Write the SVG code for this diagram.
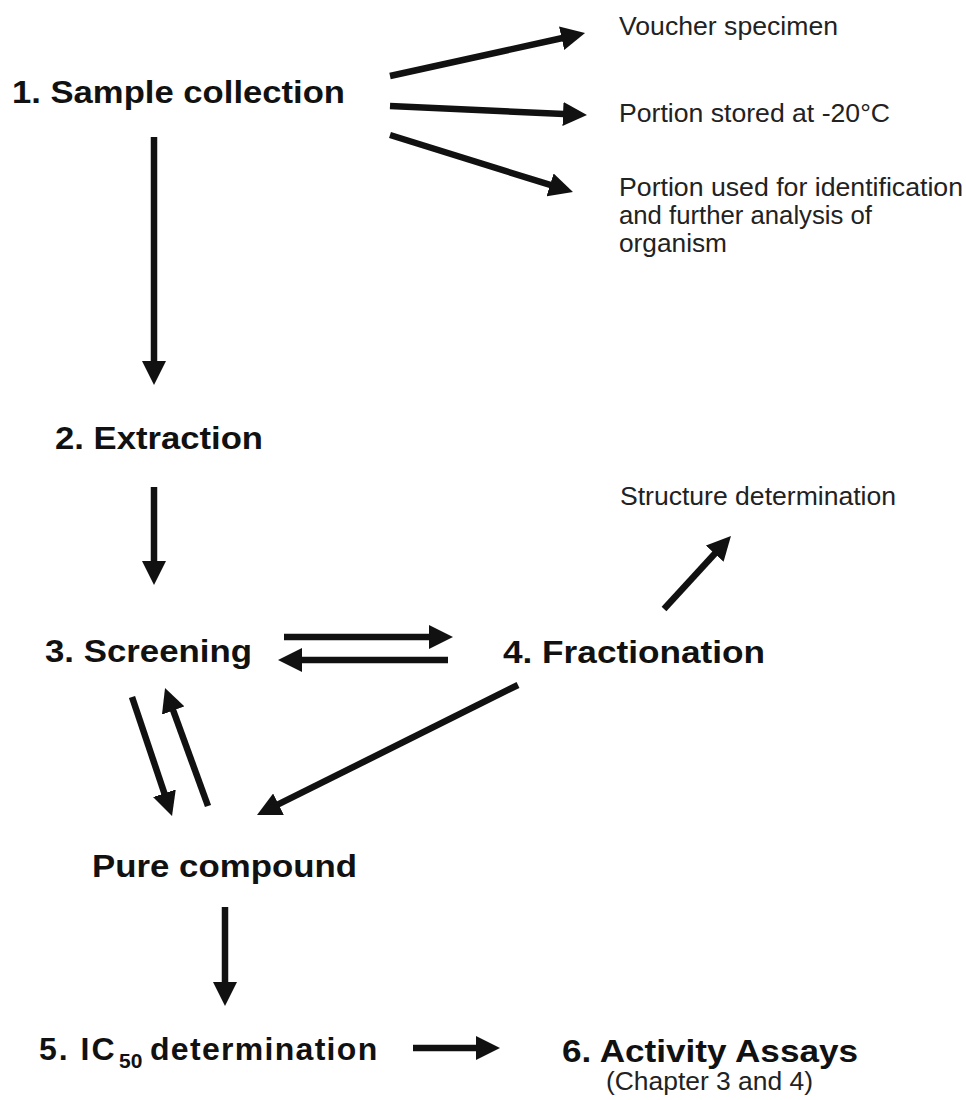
<svg xmlns="http://www.w3.org/2000/svg" width="966" height="1100" viewBox="0 0 966 1100">
<style>
.b{font-family:"Liberation Sans",Arial,sans-serif;font-weight:bold;font-size:32px;fill:#111}
.r{font-family:"Liberation Sans",Arial,sans-serif;font-size:25px;fill:#222}
.c{stroke:#111;stroke-width:6.5;fill:none;marker-end:url(#ah)}
</style>
<defs>
<marker id="ah" viewBox="0 0 24 24" markerWidth="24" markerHeight="24" markerUnits="userSpaceOnUse" refX="1" refY="12" orient="auto">
<path d="M0,0 L24,12 L0,24 z" fill="#111"/>
</marker>
</defs>
<rect width="966" height="1100" fill="#fff"/>
<g id="connectors">
<line class="c" x1="390" y1="76" x2="562.6" y2="38"/>
<line class="c" x1="390" y1="106" x2="564" y2="114"/>
<line class="c" x1="390" y1="135" x2="551" y2="185.2"/>
<line class="c" x1="154" y1="137" x2="154" y2="362"/>
<line class="c" x1="154" y1="487" x2="154" y2="562"/>
<line class="c" x1="284" y1="637" x2="430" y2="637"/>
<line class="c" x1="448" y1="660" x2="301" y2="660"/>
<line class="c" x1="664" y1="609" x2="715.4" y2="553"/>
<line class="c" x1="132" y1="697" x2="164.7" y2="794.2"/>
<line class="c" x1="208" y1="806" x2="172.9" y2="709.6"/>
<line class="c" x1="518" y1="685" x2="277.6" y2="804.7"/>
<line class="c" x1="225" y1="907" x2="225" y2="983"/>
<line class="c" x1="413" y1="1048" x2="477" y2="1048"/>
</g>
<g id="n1"><text class="b" x="12" y="103" font-size="34" textLength="333" lengthAdjust="spacingAndGlyphs">1. Sample collection</text></g>
<g id="o1"><text class="r" x="619" y="35" textLength="219" lengthAdjust="spacingAndGlyphs">Voucher specimen</text></g>
<g id="o2"><text class="r" x="619" y="122" textLength="271" lengthAdjust="spacingAndGlyphs">Portion stored at -20°C</text></g>
<g id="o3">
<text class="r" x="619" y="196" textLength="344" lengthAdjust="spacingAndGlyphs">Portion used for identification</text>
<text class="r" x="619" y="224" textLength="253" lengthAdjust="spacingAndGlyphs">and further analysis of</text>
<text class="r" x="619" y="252" textLength="108" lengthAdjust="spacingAndGlyphs">organism</text>
</g>
<g id="n2"><text class="b" x="55" y="449" textLength="208" lengthAdjust="spacingAndGlyphs">2. Extraction</text></g>
<g id="n3"><text class="b" x="45" y="662" textLength="207" lengthAdjust="spacingAndGlyphs">3. Screening</text></g>
<g id="n4"><text class="b" x="503" y="663" textLength="262" lengthAdjust="spacingAndGlyphs">4. Fractionation</text></g>
<g id="sd"><text class="r" x="620" y="505" textLength="276" lengthAdjust="spacingAndGlyphs">Structure determination</text></g>
<g id="pc"><text class="b" x="92" y="877" textLength="265" lengthAdjust="spacingAndGlyphs">Pure compound</text></g>
<g id="n5"><text class="b" x="39" y="1060"><tspan letter-spacing="2">5. IC</tspan><tspan x="119" y="1068" font-size="21">50</tspan><tspan x="150" y="1060" letter-spacing="1.3">determination</tspan></text></g>
<g id="n6">
<text class="b" x="562" y="1062" textLength="296" lengthAdjust="spacingAndGlyphs">6. Activity Assays</text>
<text class="r" x="606" y="1090" font-size="23" textLength="207" lengthAdjust="spacingAndGlyphs">(Chapter 3 and 4)</text>
</g>
</svg>
